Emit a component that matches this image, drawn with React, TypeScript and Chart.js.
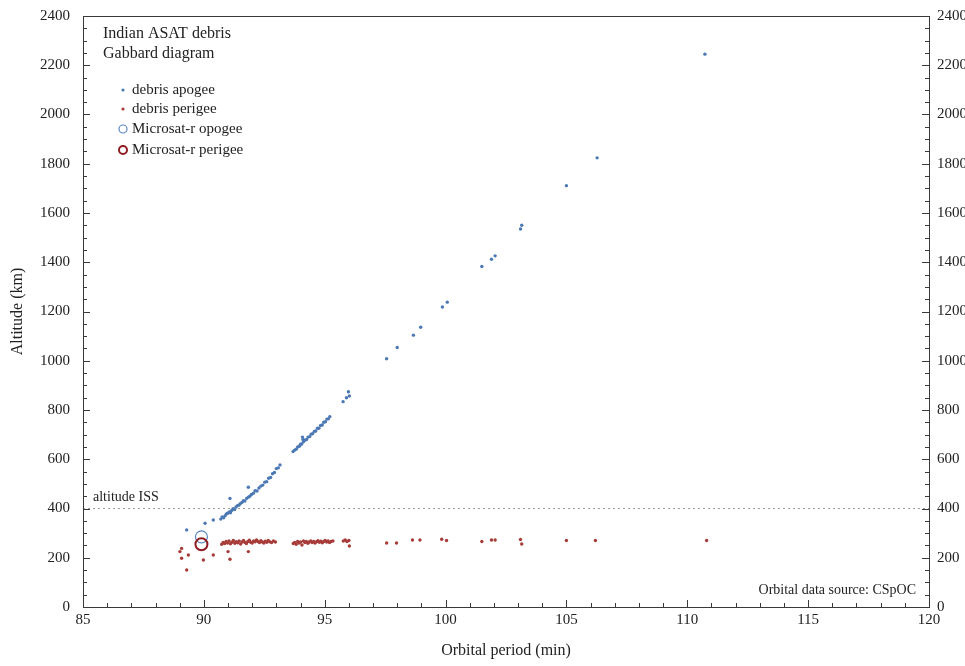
import { useEffect, useRef } from "react";
import { Chart, registerables } from "chart.js";
Chart.register(...registerables);

// ---------- data (orbital period in minutes, altitude in km) ----------
const apogeePeriod = [
  89.29, 90.05, 90.39, 91.08, 91.84,
  90.70, 90.76, 90.82, 90.88, 90.93, 90.99, 91.05, 91.10, 91.15, 91.21, 91.27, 91.33, 91.40, 91.46, 91.52,
  91.58, 91.64, 91.70, 91.77, 91.84, 91.90, 91.97, 92.05, 92.12, 92.20, 92.28, 92.36, 92.44, 92.52, 92.60,
  92.68, 92.76, 92.84, 92.92, 93.00, 93.08, 93.15,
  93.69, 93.75, 93.82, 93.88, 93.95, 94.00, 94.05, 94.08, 94.10, 94.12, 94.18, 94.25, 94.31, 94.38, 94.44,
  94.50, 94.57, 94.63, 94.70, 94.76, 94.83, 94.90, 94.96, 95.03, 95.09, 95.15, 95.21,
  95.76, 95.90, 95.98, 96.02,
  97.56, 98.00, 98.67, 98.97, 99.87, 100.07, 101.50, 101.90, 102.05, 103.10, 103.15, 105.00, 106.27, 110.73,
];
const apogeeAlt = [
  313, 340, 353, 441, 486,
  357, 366, 362, 371, 378, 381, 386, 383, 392, 399, 396, 406, 412, 414, 421,
  425, 432, 430, 441, 446, 450, 457, 462, 472, 471, 483, 491, 495, 507, 509,
  523, 526, 541, 546, 562, 565, 577,
  631, 637, 641, 650, 653, 661, 662, 690, 680, 671, 677, 680, 690, 692, 702,
  704, 713, 715, 726, 726, 737, 739, 750, 752, 763, 764, 773,
  834, 850, 874, 857,
  1008, 1054, 1104, 1136, 1218, 1238, 1383, 1412, 1426, 1535, 1550, 1711, 1824, 2245,
];
const perigeePeriod = [
  89.01, 89.08, 89.08, 89.29, 89.36, 89.98, 90.39, 91.00, 91.08, 91.84,
  90.74, 90.80, 90.86, 90.92, 90.98, 91.04, 91.10, 91.16, 91.22, 91.28, 91.34, 91.40, 91.46, 91.52, 91.58,
  91.64, 91.70, 91.76, 91.82, 91.88, 91.94, 92.00, 92.06, 92.12, 92.18, 92.24, 92.30, 92.36, 92.42, 92.48,
  92.54, 92.60, 92.66, 92.72, 92.80, 92.88, 92.96,
  93.70, 93.76, 93.82, 93.88, 93.94, 94.00, 94.06, 94.12, 94.18, 94.24, 94.30, 94.36, 94.42, 94.48, 94.54,
  94.60, 94.66, 94.72, 94.78, 94.84, 94.90, 94.96, 95.02, 95.08, 95.14, 95.20, 95.26, 95.34,
  95.77, 95.85, 95.92, 96.00, 96.02,
  97.56, 97.97, 98.63, 98.94, 99.84, 100.04, 101.50, 101.90, 102.05, 103.10, 103.15, 105.00, 106.20, 110.80,
];
const perigeeAlt = [
  225, 238, 198, 150, 211, 191, 211, 225, 194, 225,
  255, 262, 258, 266, 260, 268, 257, 263, 270, 259, 265, 261, 268, 256, 264,
  270, 262, 258, 266, 271, 263, 260, 268, 265, 272, 266, 262, 269, 264, 260,
  267, 263, 270, 265, 262, 268, 264,
  258, 262, 255, 266, 260, 264, 252, 268, 262, 266, 259, 264, 268, 262, 266,
  260, 265, 269, 263, 267, 261, 266, 270, 264, 268, 262, 266, 268,
  268, 272, 266, 270, 248,
  260, 260, 272, 272, 275, 270, 266, 272, 272, 274, 256, 270, 270, 270,
];
const microsatPeriod = [89.9];
const microsatApogee = [285];
const microsatPerigee = [255];
const issAltitude = 400;

const titleLines = ["Indian ASAT debris", "Gabbard diagram"];
const legendLabels = ["debris apogee", "debris perigee", "Microsat-r opogee", "Microsat-r perigee"];
const issLabel = "altitude ISS";
const sourceLabel = "Orbital data source: CSpOC";
const xTitle = "Orbital period (min)";
const yTitle = "Altitude (km)";

const xMin = 85, xMax = 120, xStep = 5;
const yMin = 0, yMax = 2400, yStep = 200;

const SERIF = '"Liberation Serif", "Times New Roman", serif';
const APO_COLOR = "#4c79b4";
const PERI_COLOR = "#a83c39";
const MS_APO_COLOR = "#5a86c2";
const MS_PERI_COLOR = "#8e1c22";
const TEXT = "#222222";

const zip = (xs: number[], ys: number[]) => xs.map((x, i) => ({ x, y: ys[i] }));
const plain = (v: any) => String(v);

const annotate = {
  id: "annotate",
  afterDraw(chart: any) {
    const { ctx, chartArea: a, scales } = chart;
    const xs = scales.x, ys = scales.y;
    ctx.save();
    // frame
    ctx.strokeStyle = "#3a3a3a";
    ctx.lineWidth = 1;
    ctx.strokeRect(Math.round(a.left) + 0.5, Math.round(a.top) + 0.5, Math.round(a.right - a.left), Math.round(a.bottom - a.top));
    // inward ticks
    ctx.beginPath();
    for (let v = xMin; v <= xMax; v += 1) {
      const px = Math.round(xs.getPixelForValue(v)) + 0.5;
      const len = v % xStep === 0 ? 7 : 4;
      ctx.moveTo(px, a.bottom);
      ctx.lineTo(px, a.bottom - len);
    }
    for (let v = yMin; v <= yMax; v += 50) {
      const py = Math.round(ys.getPixelForValue(v)) + 0.5;
      const len = v % yStep === 0 ? 7 : 4;
      ctx.moveTo(a.left, py);
      ctx.lineTo(a.left + len, py);
      ctx.moveTo(a.right, py);
      ctx.lineTo(a.right - len, py);
    }
    ctx.stroke();

    // title
    ctx.fillStyle = TEXT;
    ctx.textBaseline = "middle";
    ctx.textAlign = "left";
    ctx.font = `16px ${SERIF}`;
    ctx.fillText(titleLines[0], a.left + 20, a.top + 18);
    ctx.fillText(titleLines[1], a.left + 20, a.top + 38);

    // legend
    ctx.font = `15px ${SERIF}`;
    const rows = [a.top + 74, a.top + 93, a.top + 113, a.top + 134];
    const mx = a.left + 40;
    ctx.fillStyle = APO_COLOR;
    ctx.beginPath(); ctx.arc(mx, rows[0], 1.6, 0, Math.PI * 2); ctx.fill();
    ctx.fillStyle = PERI_COLOR;
    ctx.beginPath(); ctx.arc(mx, rows[1], 1.6, 0, Math.PI * 2); ctx.fill();
    ctx.strokeStyle = MS_APO_COLOR; ctx.lineWidth = 1.2;
    ctx.beginPath(); ctx.arc(mx, rows[2], 4, 0, Math.PI * 2); ctx.stroke();
    ctx.strokeStyle = MS_PERI_COLOR; ctx.lineWidth = 2;
    ctx.beginPath(); ctx.arc(mx, rows[3], 4, 0, Math.PI * 2); ctx.stroke();
    ctx.fillStyle = TEXT;
    legendLabels.forEach((t, i) => ctx.fillText(t, a.left + 49, rows[i]));

    // ISS label
    ctx.font = `14px ${SERIF}`;
    ctx.fillText(issLabel, a.left + 10, ys.getPixelForValue(issAltitude) - 11);
    // source label
    ctx.textAlign = "right";
    ctx.fillText(sourceLabel, a.right - 13, a.bottom - 17);
    ctx.restore();
  },
};

export default function App() {
  const ref = useRef<HTMLCanvasElement | null>(null);
  useEffect(() => {
    if (!ref.current) return;
    const tickFont = { family: SERIF, size: 15 };
    const chart = new Chart(ref.current, {
      type: "scatter",
      data: {
        datasets: [
          {
            type: "line",
            label: "ISS",
            data: [{ x: xMin, y: issAltitude }, { x: xMax, y: issAltitude }],
            borderColor: "#9a9a9a",
            borderWidth: 1,
            borderDash: [2, 3],
            pointRadius: 0,
            order: 5,
          } as any,
          {
            label: legendLabels[0],
            data: zip(apogeePeriod, apogeeAlt),
            backgroundColor: APO_COLOR,
            borderWidth: 0,
            pointRadius: 1.7,
            order: 3,
          },
          {
            label: legendLabels[1],
            data: zip(perigeePeriod, perigeeAlt),
            backgroundColor: PERI_COLOR,
            borderWidth: 0,
            pointRadius: 1.7,
            order: 3,
          },
          {
            label: legendLabels[2],
            data: zip(microsatPeriod, microsatApogee),
            backgroundColor: "rgba(0,0,0,0)",
            borderColor: MS_APO_COLOR,
            borderWidth: 1.2,
            pointRadius: 6,
            order: 1,
          },
          {
            label: legendLabels[3],
            data: zip(microsatPeriod, microsatPerigee),
            backgroundColor: "rgba(0,0,0,0)",
            borderColor: MS_PERI_COLOR,
            borderWidth: 2,
            pointRadius: 6,
            order: 0,
          },
        ],
      },
      options: {
        animation: false,
        responsive: false,
        maintainAspectRatio: false,
        layout: { padding: { top: 16, left: 0, right: 0, bottom: 0 } },
        plugins: { legend: { display: false }, tooltip: { enabled: false } },
        scales: {
          x: {
            type: "linear",
            position: "bottom",
            min: xMin,
            max: xMax,
            ticks: { stepSize: xStep, font: tickFont, color: TEXT, padding: 4, maxRotation: 0, callback: plain },
            grid: { display: false, drawTicks: false },
            border: { display: false },
            title: { display: true, text: xTitle, font: { family: SERIF, size: 16 }, color: TEXT, padding: { top: 0, bottom: 6 } },
            afterFit: (s: any) => { s.height = 59; s.paddingLeft = 0; s.paddingRight = 0; },
          },
          y: {
            type: "linear",
            position: "left",
            min: yMin,
            max: yMax,
            ticks: { stepSize: yStep, font: tickFont, color: TEXT, padding: 13, callback: plain },
            grid: { display: false, drawTicks: false },
            border: { display: false },
            title: { display: true, text: yTitle, font: { family: SERIF, size: 16 }, color: TEXT, padding: { top: 8, bottom: 0 } },
            afterFit: (s: any) => { s.width = 83; s.paddingTop = 0; s.paddingBottom = 0; },
          },
          y2: {
            type: "linear",
            position: "right",
            min: yMin,
            max: yMax,
            ticks: { stepSize: yStep, font: tickFont, color: TEXT, padding: 8, callback: plain },
            grid: { display: false, drawTicks: false },
            border: { display: false },
            afterFit: (s: any) => { s.width = 36; s.paddingTop = 0; s.paddingBottom = 0; },
          },
        },
      },
      plugins: [annotate],
    });
    return () => chart.destroy();
  }, []);
  return (
    <div style={{ position: "fixed", left: 0, top: 0, width: 965, height: 666, background: "#fff" }}>
      <canvas ref={ref} width={965} height={666} style={{ width: 965, height: 666, display: "block" }} />
    </div>
  );
}
